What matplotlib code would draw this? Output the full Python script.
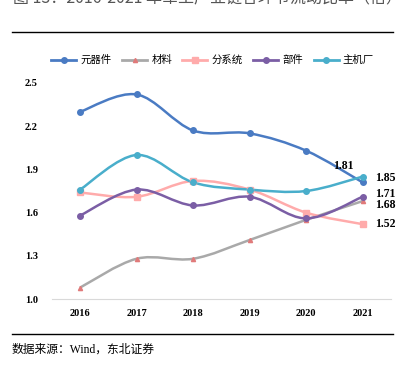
import numpy as np
import matplotlib
matplotlib.use('Agg')
import matplotlib.pyplot as plt
from matplotlib.path import Path
from matplotlib.patches import PathPatch
from matplotlib.lines import Line2D

# data
years = ['2016', '2017', '2018', '2019', '2020', '2021']
yuanqijian = [2.30, 2.42, 2.17, 2.15, 2.03, 1.81]
cailiao = [1.08, 1.28, 1.28, 1.41, 1.55, 1.68]
fenxitong = [1.74, 1.71, 1.82, 1.76, 1.60, 1.52]
bujian = [1.58, 1.76, 1.65, 1.71, 1.56, 1.71]
zhujichang = [1.76, 2.00, 1.81, 1.76, 1.75, 1.85]

series_names = ['元器件', '材料', '分系统', '部件', '主机厂']
series_vals = [yuanqijian, cailiao, fenxitong, bujian, zhujichang]
colors = ['#4A7BC3', '#A9A9A9', '#FFABAB', '#7B5EA5', '#49AECB']
markers = ['o', '^', 's', 'o', 'o']
msizes = [4, 3, 4.5, 4, 4]
mcolors = ['#4A7BC3', '#E07A7A', '#FFABAB', '#7B5EA5', '#49AECB']

cjk = ['Noto Sans CJK SC', 'DejaVu Sans']
serif = ['Liberation Serif', 'Noto Sans CJK SC']


def smooth_path(x, y):
    # excel-like smoothed line: cubic bezier segments through every point
    x = np.asarray(x, float)
    y = np.asarray(y, float)
    verts = [(x[0], y[0])]
    codes = [Path.MOVETO]
    n = len(x)
    for i in range(n - 1):
        x0, y0 = (x[i - 1], y[i - 1]) if i > 0 else (x[i], y[i])
        x3, y3 = (x[i + 2], y[i + 2]) if i + 2 < n else (x[i + 1], y[i + 1])
        c1 = (x[i] + (x[i + 1] - x0) / 6, y[i] + (y[i + 1] - y0) / 6)
        c2 = (x[i + 1] - (x3 - x[i]) / 6, y[i + 1] - (y3 - y[i]) / 6)
        verts += [c1, c2, (x[i + 1], y[i + 1])]
        codes += [Path.CURVE4] * 3
    return Path(verts, codes)


fig = plt.figure(figsize=(4.05, 3.67), dpi=100)
ax = fig.add_axes([0.128, 0.185, 0.837, 0.589])

xs = np.arange(len(years))
for name, vals, c, m, ms, mc in zip(series_names, series_vals, colors, markers, msizes, mcolors):
    ax.add_patch(PathPatch(smooth_path(xs, vals), fill=False, edgecolor=c, lw=1.8, zorder=2))
    ax.plot(xs, vals, linestyle='none', marker=m, markersize=ms, color=mc, zorder=3)

ax.set_xlim(-0.5, 5.5)
ax.set_ylim(1.0, 2.5)
ax.set_yticks([1.0, 1.3, 1.6, 1.9, 2.2, 2.5])
ax.set_xticks(xs)
ax.set_xticklabels(years)
for s in ['top', 'right', 'left']:
    ax.spines[s].set_visible(False)
ax.spines['bottom'].set_color('#D9D9D9')
ax.tick_params(length=0)
ax.tick_params(axis='y', pad=10)
ax.tick_params(axis='x', pad=7)
for lab in ax.get_xticklabels() + ax.get_yticklabels():
    lab.set_family(serif)
    lab.set_fontweight('bold')
    lab.set_fontsize(7.5)
ax.yaxis.set_major_formatter(matplotlib.ticker.FormatStrFormatter('%.1f'))

# end labels for 2021
lab_kw = dict(family=serif, fontweight='bold', fontsize=8.5, clip_on=False)
ax.annotate('1.81', (5, yuanqijian[5]), xytext=(-14, 12), textcoords='offset points', ha='center', va='center', **lab_kw)
ax.annotate('1.85', (5, zhujichang[5]), xytext=(9, -1), textcoords='offset points', ha='left', va='center', **lab_kw)
ax.annotate('1.71', (5, bujian[5]), xytext=(9, 2), textcoords='offset points', ha='left', va='center', **lab_kw)
ax.annotate('1.68', (5, cailiao[5]), xytext=(9, -3), textcoords='offset points', ha='left', va='center', **lab_kw)
ax.annotate('1.52', (5, fenxitong[5]), xytext=(9, 0), textcoords='offset points', ha='left', va='center', **lab_kw)

# legend
handles = [Line2D([], [], color=c, lw=2, marker=m, markersize=ms, markerfacecolor=mc, markeredgecolor=mc)
           for c, m, ms, mc in zip(colors, markers, msizes, mcolors)]
fig.legend(handles, series_names, loc='center', bbox_to_anchor=(0.525, 0.836), ncol=5, frameon=False,
           prop={'family': cjk, 'size': 7.5}, handlelength=2.4, columnspacing=1.0, handletextpad=0.4)

# title (cut off at the top in the original) and rules
fig.text(13 / 405, 1.004, '图 13：2016-2021 年军工产业链各环节流动比率（倍）', family=cjk, fontsize=11.5,
         color='#555555', ha='left', va='center')
fig.add_artist(Line2D([12 / 405, 393 / 405], [1 - 32 / 367] * 2, color='black', lw=1.0))
fig.add_artist(Line2D([12 / 405, 393 / 405], [1 - 334 / 367] * 2, color='black', lw=1.0))
fig.text(12 / 405, 1 - 350 / 367, '数据来源：Wind，东北证券', family=serif, fontsize=8.5, ha='left', va='center')

fig.savefig('out.png', dpi=100)
